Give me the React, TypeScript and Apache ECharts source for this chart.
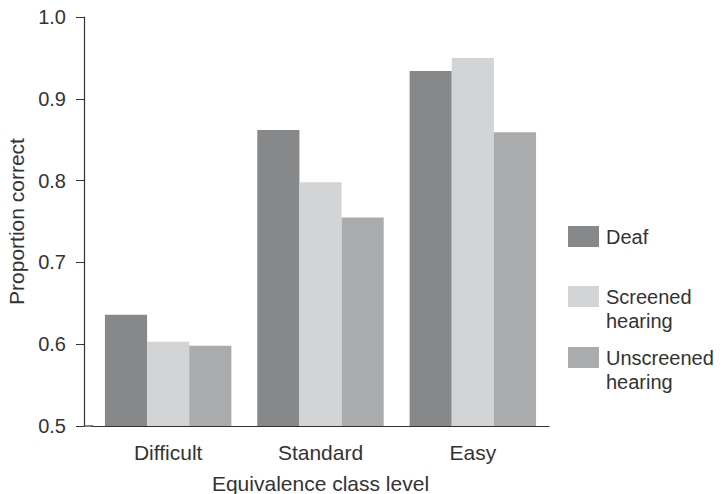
import React, { useEffect, useRef } from "react";
import * as echarts from "echarts";

const categories = ["Difficult", "Standard", "Easy"];
const deaf = [0.636, 0.862, 0.934];
const screened = [0.603, 0.798, 0.95];
const unscreened = [0.598, 0.755, 0.859];
const seriesNames = ["Deaf", "Screened hearing", "Unscreened hearing"];
const seriesColors = ["#87888a", "#d3d4d6", "#aaabad"];

const FONT = "Liberation Sans, Arial, Helvetica, sans-serif";
const TEXT = "#333333";

export default function App() {
  const ref = useRef<HTMLDivElement>(null);
  useEffect(() => {
    if (!ref.current) return;
    const chart = echarts.init(ref.current, null, { renderer: "svg" });
    const values = [deaf, screened, unscreened];
    const legendTops = [224.5, 260.5, 321.5];
    chart.setOption({
      animation: false,
      textStyle: { fontFamily: FONT, color: TEXT },
      grid: { left: 92, right: 177, top: 17, bottom: 68, outerBoundsMode: "none", containLabel: false },
      legend: seriesNames.map((n, i) => ({
        data: [n],
        orient: "vertical",
        left: 568,
        top: legendTops[i],
        icon: "rect",
        itemWidth: 31,
        itemHeight: 21,
        padding: 0,
        formatter: (name: string) => (name.indexOf(" ") >= 0 ? "\n" + name.replace(" ", "\n") : name),
        textStyle: {
          fontFamily: FONT,
          fontSize: 20,
          lineHeight: 24,
          color: TEXT,
          padding: [0, 0, 0, 2],
        },
      })),
      xAxis: {
        type: "category",
        data: categories,
        name: "Equivalence class level",
        nameLocation: "middle",
        nameGap: 47,
        nameTextStyle: { fontSize: 21, lineHeight: 21, color: TEXT, fontFamily: FONT },
        axisLine: { lineStyle: { color: "#333", width: 1.2 } },
        axisTick: { alignWithLabel: true, length: 5, lineStyle: { color: "#333" } },
        axisLabel: { fontSize: 21, color: TEXT, margin: 16, fontFamily: FONT },
      },
      yAxis: {
        type: "value",
        min: 0.5,
        max: 1.0,
        interval: 0.1,
        offset: 8,
        name: "Proportion correct",
        nameLocation: "middle",
        nameGap: 57,
        nameTextStyle: { fontSize: 21, color: TEXT, fontFamily: FONT },
        axisLine: { show: true, lineStyle: { color: "#333", width: 1.2 } },
        axisTick: { show: true, length: 8, lineStyle: { color: "#333" } },
        axisLabel: {
          fontSize: 20,
          color: TEXT,
          margin: 18,
          fontFamily: FONT,
          formatter: (v: number) => v.toFixed(1),
        },
        splitLine: { show: false },
      },
      graphic: [
        {
          type: "line",
          shape: { x1: 84, y1: 426, x2: 93, y2: 426 },
          style: { stroke: "#333", lineWidth: 1.2 },
        },
      ],
      series: seriesNames.map((n, i) => ({
        name: n,
        type: "bar",
        data: values[i],
        barGap: "0%",
        barCategoryGap: "17%",
        itemStyle: { color: seriesColors[i] },
      })),
    });
    return () => chart.dispose();
  }, []);
  return (
    <div
      ref={ref}
      style={{ position: "fixed", left: 0, top: 0, width: 726, height: 494, background: "#fff" }}
    />
  );
}
